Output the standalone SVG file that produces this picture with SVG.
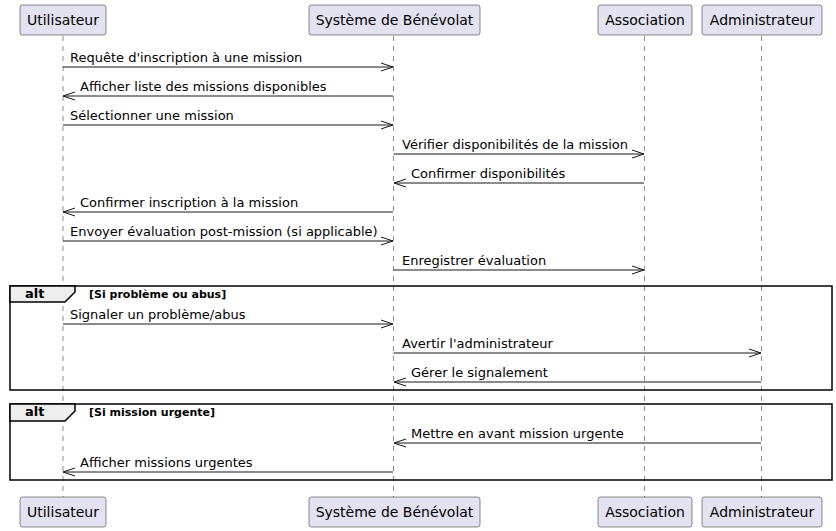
<svg xmlns="http://www.w3.org/2000/svg" width="836" height="531" viewBox="0 0 836 531">
<style>
text{font-family:"DejaVu Sans","Liberation Sans",sans-serif;fill:#000}
.pbox{fill:#E2E2F0;stroke:#181818;stroke-width:0.5}
.pt{font-size:14px;text-anchor:middle}
.life{stroke:#181818;stroke-width:0.5;stroke-dasharray:5,5;fill:none}
.msg{stroke:#181818;stroke-width:1;fill:none}
.mt{font-size:13px}
.frame{fill:none;stroke:#000;stroke-width:1.5}
.hdr{fill:#EEEEEE;stroke:#000;stroke-width:1.5}
.alt{font-size:13px;font-weight:bold}
.cond{font-size:11px;font-weight:bold}
</style>
<rect width="836" height="531" fill="#fff"/>
<g id="lifelines">
<line class="life" x1="63" y1="36" x2="63" y2="497"/>
<line class="life" x1="393.5" y1="36" x2="393.5" y2="497"/>
<line class="life" x1="644.5" y1="36" x2="644.5" y2="497"/>
<line class="life" x1="761.5" y1="36" x2="761.5" y2="497"/>
</g>
<g id="utilisateur">
<rect class="pbox" x="20" y="5" width="86" height="30" rx="2.5"/>
<text class="pt" x="63" y="25">Utilisateur</text>
<rect class="pbox" x="20" y="497" width="86" height="30" rx="2.5"/>
<text class="pt" x="63" y="517">Utilisateur</text>
</g>
<g id="systeme">
<rect class="pbox" x="309" y="5" width="171" height="30" rx="2.5"/>
<text class="pt" x="394.5" y="25">Système de Bénévolat</text>
<rect class="pbox" x="309" y="497" width="171" height="30" rx="2.5"/>
<text class="pt" x="394.5" y="517">Système de Bénévolat</text>
</g>
<g id="association">
<rect class="pbox" x="598" y="5" width="94" height="30" rx="2.5"/>
<text class="pt" x="645" y="25">Association</text>
<rect class="pbox" x="598" y="497" width="94" height="30" rx="2.5"/>
<text class="pt" x="645" y="517">Association</text>
</g>
<g id="administrateur">
<rect class="pbox" x="702" y="5" width="120" height="30" rx="2.5"/>
<text class="pt" x="762" y="25">Administrateur</text>
<rect class="pbox" x="702" y="497" width="120" height="30" rx="2.5"/>
<text class="pt" x="762" y="517">Administrateur</text>
</g>
<g id="frames">
<rect class="frame" x="10" y="286" width="822" height="104"/>
<path class="hdr" d="M10,286 L75,286 L75,292 L65,302 L10,302 Z"/>
<text class="alt" x="25" y="298">alt</text>
<text class="cond" x="89" y="298">[Si problème ou abus]</text>
<rect class="frame" x="10" y="404" width="822" height="76"/>
<path class="hdr" d="M10,404 L75,404 L75,411 L65,421 L10,421 Z"/>
<text class="alt" x="25" y="416">alt</text>
<text class="cond" x="89" y="416">[Si mission urgente]</text>
</g>
<g id="connectors">
<path class="msg" d="M63,67 H393 M381,63 L393,67 L381,71"/>
<text class="mt" x="70" y="62">Requête d'inscription à une mission</text>
<path class="msg" d="M393,96 H63 M75,92 L63,96 L75,100"/>
<text class="mt" x="80" y="91">Afficher liste des missions disponibles</text>
<path class="msg" d="M63,125 H393 M381,121 L393,125 L381,129"/>
<text class="mt" x="70" y="120">Sélectionner une mission</text>
<path class="msg" d="M393.5,154 H644 M632,150 L644,154 L632,158"/>
<text class="mt" x="402" y="149">Vérifier disponibilités de la mission</text>
<path class="msg" d="M644,183 H394 M406,179 L394,183 L406,187"/>
<text class="mt" x="411" y="178">Confirmer disponibilités</text>
<path class="msg" d="M393,212 H63 M75,208 L63,212 L75,216"/>
<text class="mt" x="80" y="207">Confirmer inscription à la mission</text>
<path class="msg" d="M63,241 H393 M381,237 L393,241 L381,245"/>
<text class="mt" x="70" y="236">Envoyer évaluation post-mission (si applicable)</text>
<path class="msg" d="M393.5,270 H644 M632,266 L644,270 L632,274"/>
<text class="mt" x="402" y="265">Enregistrer évaluation</text>
<path class="msg" d="M63,324 H393 M381,320 L393,324 L381,328"/>
<text class="mt" x="70" y="319">Signaler un problème/abus</text>
<path class="msg" d="M393.5,353 H761 M749,349 L761,353 L749,357"/>
<text class="mt" x="402" y="348">Avertir l'administrateur</text>
<path class="msg" d="M761,382 H394 M406,378 L394,382 L406,386"/>
<text class="mt" x="411" y="377">Gérer le signalement</text>
<path class="msg" d="M761,443 H394 M406,439 L394,443 L406,447"/>
<text class="mt" x="411" y="438">Mettre en avant mission urgente</text>
<path class="msg" d="M393,472 H63 M75,468 L63,472 L75,476"/>
<text class="mt" x="80" y="467">Afficher missions urgentes</text>
</g>
</svg>
